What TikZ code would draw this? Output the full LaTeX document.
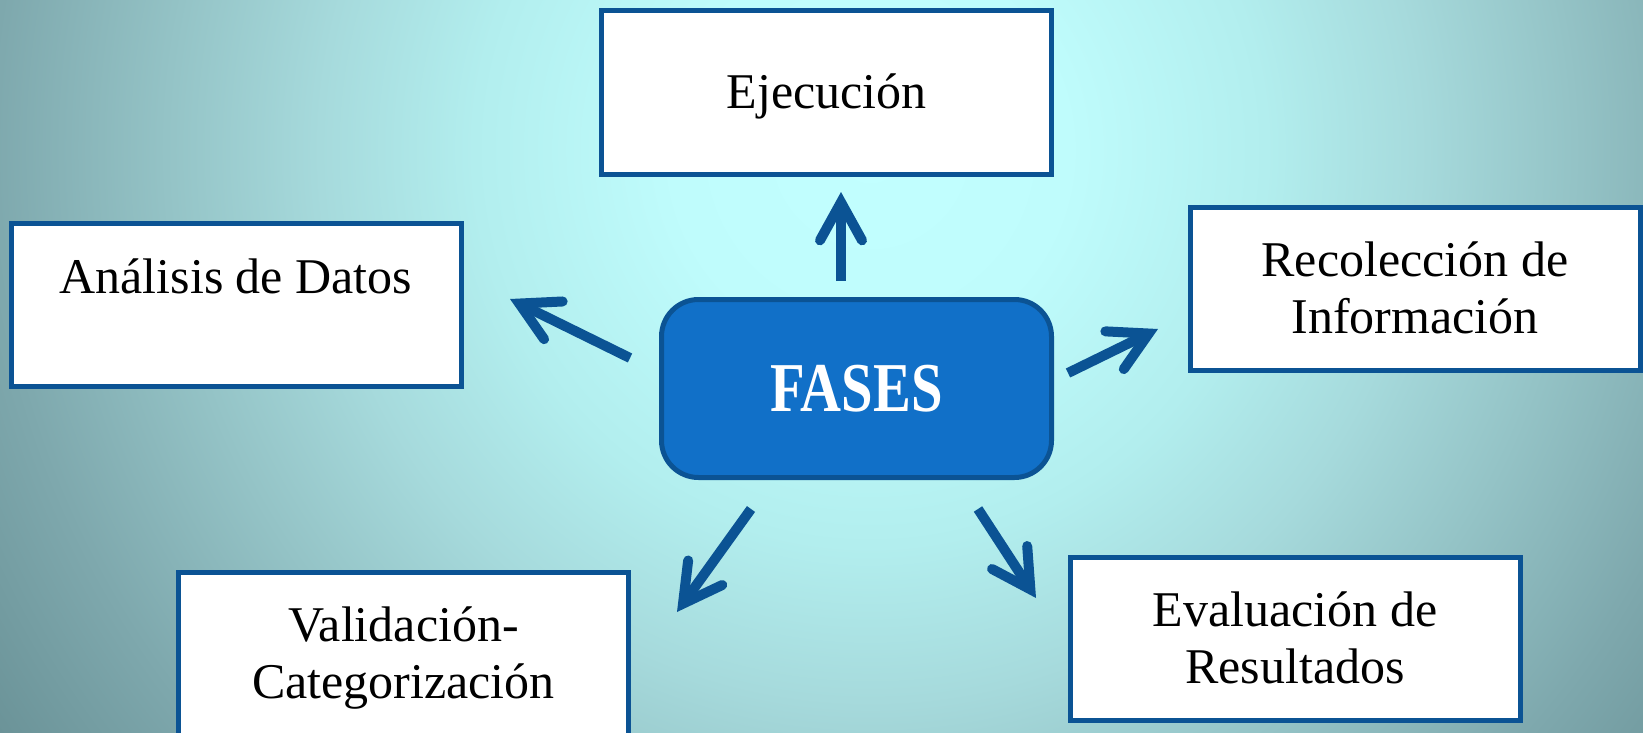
\documentclass[tikz,border=0pt]{standalone}
\usepackage{fontspec}
\setmainfont{Liberation Serif}
\newfontfamily\narrowserif[FakeStretch=0.81]{Liberation Serif}
\usetikzlibrary{arrows.meta}
\definecolor{boxblue}{HTML}{0B5394}
\definecolor{fasesblue}{HTML}{1170C8}
\definecolor{bglight}{HTML}{C2FFFF}
\definecolor{bgone}{HTML}{BFFCFC}
\definecolor{bgtwo}{HTML}{B2EEEE}
\definecolor{bgthree}{HTML}{A6DADC}
\definecolor{bgfour}{HTML}{94C3C6}
\definecolor{bgfive}{HTML}{7EA8AD}
\definecolor{bgdark}{HTML}{6A9297}
\pgfdeclareradialshading{glow}{\pgfpoint{0bp}{0bp}}{color(0bp)=(bglight); color(4.5bp)=(bgone); color(9bp)=(bgtwo); color(12.5bp)=(bgthree); color(16bp)=(bgfour); color(20bp)=(bgfive); color(24bp)=(bgdark); color(50bp)=(bgdark)}
\tikzstyle{phase}=[draw=boxblue,line width=5pt,fill=white,minimum width=450pt,minimum height=163pt,inner sep=0pt,text width=440pt,align=flush center,font=\fontsize{50}{57}\selectfont,text height=33pt]
\tikzstyle{hub}=[draw=boxblue,line width=5pt,fill=fasesblue,rounded corners=37pt,minimum width=390pt,minimum height=178pt,inner sep=0pt,text=white,text height=46pt,text depth=0pt,font=\narrowserif\bfseries\fontsize{70}{80}\selectfont]
\tikzstyle{spoke}=[draw=boxblue,line width=10pt,-{Straight Barb[length=38pt,width=42pt,line cap=round,line join=miter]}]

\begin{document}
\begin{tikzpicture}[x=1pt,y=-1pt]
	% Background glow
	\useasboundingbox (0,0) rectangle (1643,733);
	\clip (0,0) rectangle (1643,733);
	\shade[shading=glow] (870,150) circle (1100pt);

	% First we draw the phases
	\foreach \pos/\name/\dep/\txt in {{(826.5,92.5)/ejec/0pt/Ejecución}, {(236,305)/analisis/57pt/Análisis de Datos},
							{(1415,288.5)/recol/57pt/{Recolección de\\Información}}, {(403.5,653.5)/valid/57pt/{Validación-\\Categorización}},
							{(1295,638.5)/eval/57pt/{Evaluación de\\Resultados}}}
	\node[phase,text depth=\dep] (\name) at \pos {\txt};

	\node[hub] (fases) at (856.5,388.5) {FASES};

	% Arrow ends around the hub
	\coordinate (up-a) at (841,281);
	\coordinate (up-b) at (841,192);
	\coordinate (upleft-a) at (630,358);
	\coordinate (upleft-b) at (510,299);
	\coordinate (upright-a) at (1068,373);
	\coordinate (upright-b) at (1158,329);
	\coordinate (downleft-a) at (751,509);
	\coordinate (downleft-b) at (677,612);
	\coordinate (downright-a) at (978,509);
	\coordinate (downright-b) at (1036,598);

	% Then the arrows
	\foreach \arr in {up, upleft, upright, downleft, downright}
	\path[spoke] (\arr-a) -- (\arr-b);

\end{tikzpicture}
\end{document}
